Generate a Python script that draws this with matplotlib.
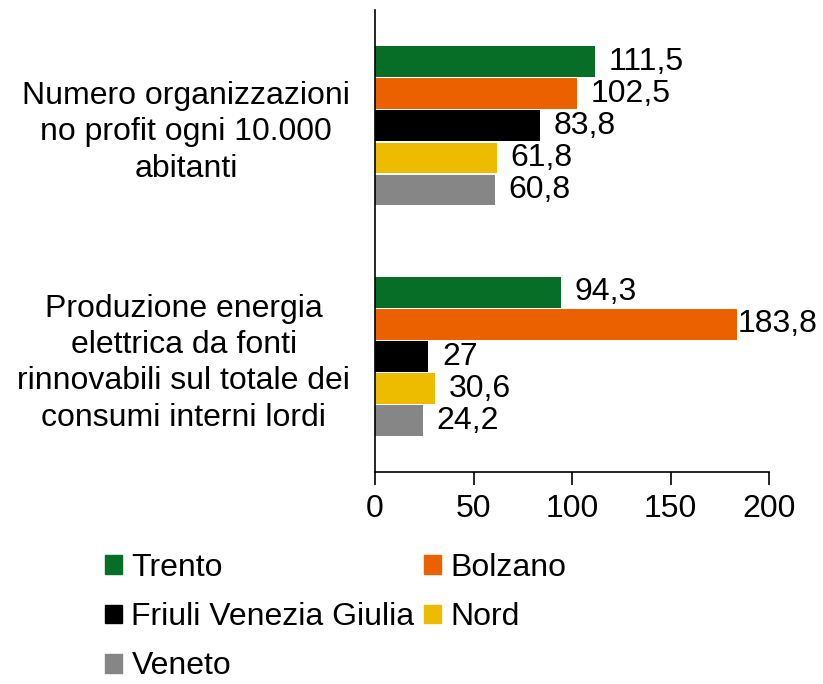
import numpy as np
import matplotlib.pyplot as plt
from matplotlib.patches import Patch

plt.rcParams['font.family'] = ['Liberation Sans', 'DejaVu Sans']

categories = ['Numero organizzazioni\nno profit ogni 10.000\nabitanti',
              'Produzione energia\nelettrica da fonti\nrinnovabili sul totale dei\nconsumi interni lordi']
series = ['Trento', 'Bolzano', 'Friuli Venezia Giulia', 'Nord', 'Veneto']
colors = ['#076e27', '#eb6100', '#000000', '#edbb00', '#868686']
values = {
    'Trento': [111.5, 94.3],
    'Bolzano': [102.5, 183.8],
    'Friuli Venezia Giulia': [83.8, 27],
    'Nord': [61.8, 30.6],
    'Veneto': [60.8, 24.2],
}

FS = 23

fig = plt.figure(figsize=(8.23, 6.84), dpi=100)
ax = fig.add_axes([0.4557, 0.31, 0.4787, 0.675])

y = np.arange(len(categories))
h = 0.132
step = 0.139
for i, (name, c) in enumerate(zip(series, colors)):
    pos = y + (i - 2) * step
    ax.barh(pos, values[name], height=h, color=c)
    for p, v in zip(pos, values[name]):
        txt = ('%g' % v).replace('.', ',')
        # labels near the right edge sit tight against the bar
        off = 0.5 if v > 170 else 7
        ax.text(v + off, p, txt, va='center', ha='left', fontsize=FS)

ax.set_ylim(1.5, -0.5)
ax.set_xlim(0, 200)
ax.set_xticks([0, 50, 100, 150, 200])
ax.set_yticks(y)
ax.set_yticklabels(categories, multialignment='center', fontsize=FS, linespacing=1.28)
ax.tick_params(axis='y', length=0, pad=18)
ax.tick_params(axis='x', length=9, width=1.2, labelsize=FS, pad=7)
for s in ['top', 'right']:
    ax.spines[s].set_visible(False)
ax.spines['left'].set_linewidth(1.2)
ax.spines['bottom'].set_linewidth(1.2)

order = [0, 2, 4, 1, 3]
handles = [Patch(color=colors[i], label=series[i]) for i in order]
fig.legend(handles=handles, ncol=2, loc='upper left', bbox_to_anchor=(0.112, 0.21),
           frameon=False, fontsize=FS, handlelength=0.53, handleheight=0.53,
           handletextpad=0.3, columnspacing=0.3, labelspacing=0.6, borderaxespad=0)

fig.savefig('out.png', dpi=100)
